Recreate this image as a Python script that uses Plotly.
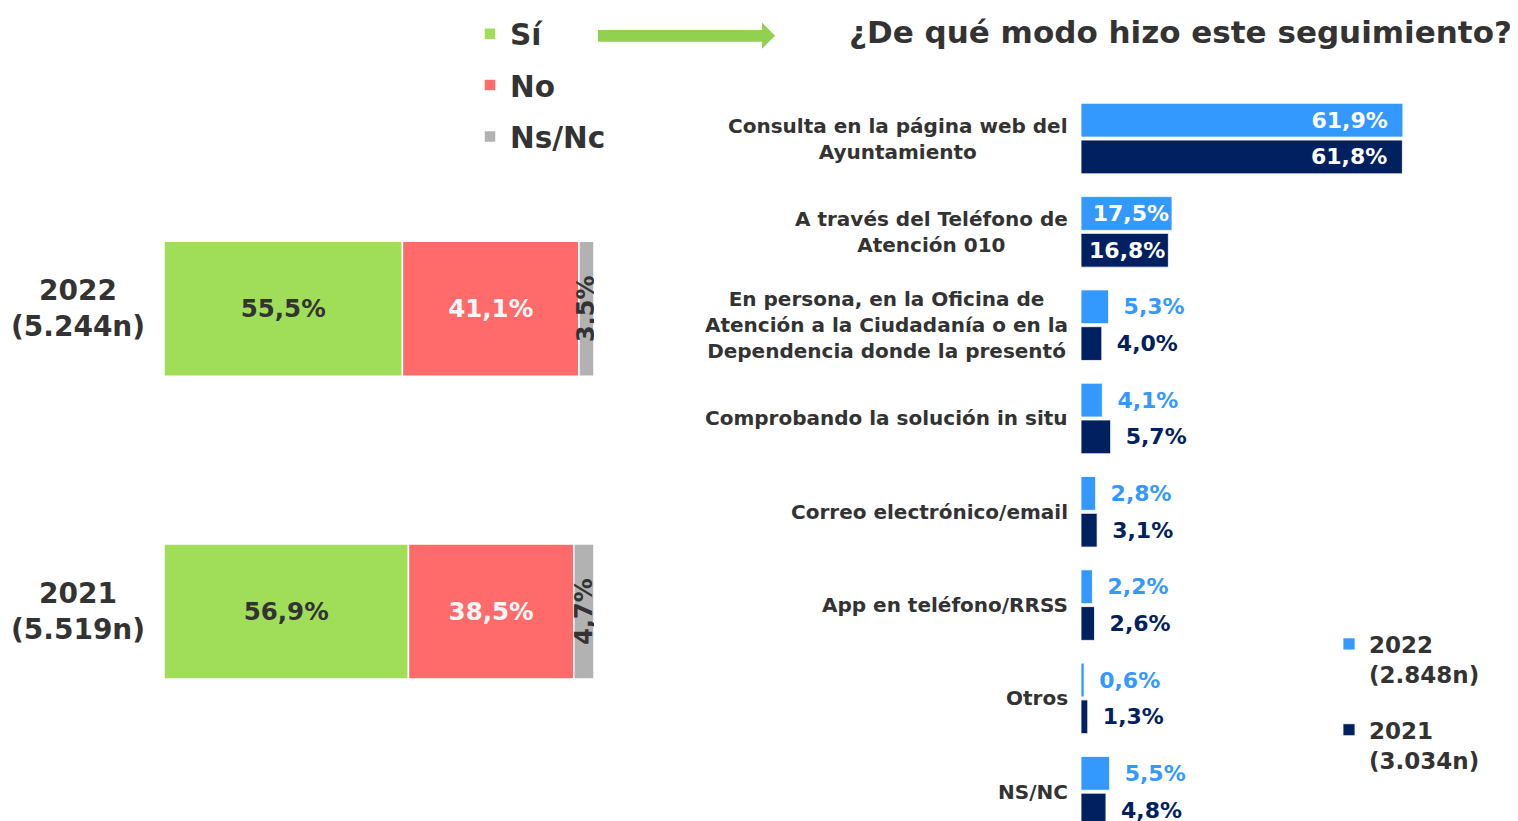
import plotly.graph_objects as go

# ---------------- data ----------------
years = ["2022", "2021"]
year_n = ["(5.244n)", "(5.519n)"]
si = [55.5, 56.9]
no = [41.1, 38.5]
nsnc = [3.5, 4.7]

categories = [
    "Consulta en la página web del<br>Ayuntamiento",
    "A través del Teléfono de<br>Atención 010",
    "En persona, en la Oficina de<br>Atención a la Ciudadanía o en la<br>Dependencia donde la presentó",
    "Comprobando la solución in situ",
    "Correo electrónico/email",
    "App en teléfono/RRSS",
    "Otros",
    "NS/NC",
]
v2022 = [61.9, 17.5, 5.3, 4.1, 2.8, 2.2, 0.6, 5.5]
v2021 = [61.8, 16.8, 4.0, 5.7, 3.1, 2.6, 1.3, 4.8]
series_names = ["2022<br>(2.848n)", "2021<br>(3.034n)"]

title_text = "¿De qué modo hizo este seguimiento?"

# ---------------- style ----------------
W, H = 1518, 821          # window size
OFF = 8                   # page body margin
FW, FH = W - OFF, H - OFF  # figure size
FONT = "DejaVu Sans"
TXT = "#333333"
GREEN, RED, GRAY = "#A0DE5A", "#FF6B6B", "#B2B2B2"
LIGHT, NAVY = "#3399FF", "#002060"
ARROW = "#92D050"


def fmt(v):
    return f"{v:.1f}".replace(".", ",") + "%"


def bar_label(v):
    if v > 30:
        return fmt(v) + "\u00a0\u2009"
    if v > 10:
        return fmt(v)
    return "\u00a0\u2009" + fmt(v)


def px_x(p):
    return (p - OFF) / FW


def px_y(p):
    return 1 - (p - OFF) / FH


fig = go.Figure()

# ---------- left stacked bars (built with explicit bases) ----------
ypos = list(range(len(years)))
base_no = [a for a in si]
base_ns = [a + b for a, b in zip(si, no)]
BW = 0.446

fig.add_trace(go.Bar(
    name="Sí", x=si, y=ypos, base=[0] * len(si), orientation="h", width=BW,
    marker=dict(color=GREEN, line=dict(color="white", width=1.5)),
    text=[fmt(v) for v in si], textposition="inside", insidetextanchor="middle",
    textangle=0, textfont=dict(family=FONT, size=24.5, color=TXT, weight="bold"),
    xaxis="x", yaxis="y", legend="legend", legendgroup="si", hoverinfo="skip",
))
fig.add_trace(go.Bar(
    name="No", x=no, y=ypos, base=base_no, orientation="h", width=BW,
    marker=dict(color=RED, line=dict(color="white", width=1.5)),
    text=[fmt(v) for v in no], textposition="inside", insidetextanchor="middle",
    textangle=0, textfont=dict(family=FONT, size=24.5, color="#F7F7F7", weight="bold"),
    xaxis="x", yaxis="y", legend="legend", legendgroup="no", hoverinfo="skip",
))
fig.add_trace(go.Bar(
    name="Ns/Nc", x=nsnc, y=ypos, base=base_ns, orientation="h", width=BW,
    marker=dict(color=GRAY, line=dict(color="white", width=1.5)),
    text=[fmt(v) for v in nsnc], textposition="inside", insidetextanchor="middle",
    textangle=-90, constraintext="none",
    textfont=dict(family=FONT, size=24, color=TXT, weight="bold"),
    xaxis="x", yaxis="y", legend="legend", legendgroup="ns", hoverinfo="skip",
))

# ---------- right grouped bars ----------
cpos = list(range(len(categories)))
BW2 = 0.362
for vals, name, col, off, grp in [
    (v2022, series_names[0], LIGHT, -0.378, "a"),
    (v2021, series_names[1], NAVY, 0.016, "b"),
]:
    fig.add_trace(go.Bar(
        name=name, x=vals, y=cpos, orientation="h", width=BW2, offset=off,
        marker=dict(color=col, line=dict(color="white", width=0.8)),
        text=[bar_label(v) for v in vals],
        textposition=["inside" if v > 10 else "outside" for v in vals],
        insidetextanchor="end", textangle=0,
        insidetextfont=dict(family=FONT, size=22, color="white", weight="bold"),
        outsidetextfont=dict(family=FONT, size=22, color=col, weight="bold"),
        xaxis="x2", yaxis="y2", legend="legend2", legendgroup=grp,
        hoverinfo="skip",
    ))

annotations = []
# year labels (left)
for i, (yr, n) in enumerate(zip(years, year_n)):
    annotations.append(dict(
        xref="paper", x=px_x(78), yref="y", y=i, xanchor="center", yanchor="middle",
        text=f"{yr}<br>{n}", showarrow=False, align="center",
        font=dict(family=FONT, size=28, color=TXT, weight="bold"),
    ))
# category labels (right)
for i, c in enumerate(categories):
    annotations.append(dict(
        xref="x2 domain", x=0, xshift=-11, yref="y2", y=i, xanchor="right",
        yanchor="middle", text=c, showarrow=False, align="center",
        font=dict(family=FONT, size=20, color=TXT, weight="bold"),
    ))
# title
annotations.append(dict(
    xref="paper", x=px_x(1514), yref="paper", y=px_y(26), xanchor="right",
    yanchor="middle", text=title_text, showarrow=False,
    font=dict(family=FONT, size=31, color=TXT, weight="bold"),
))

# arrow shape
arrow_path = (
    f"M{px_x(598)},{px_y(24)} L{px_x(762)},{px_y(24)} L{px_x(762)},{px_y(16.5)} "
    f"L{px_x(775)},{px_y(30)} L{px_x(762)},{px_y(43)} L{px_x(762)},{px_y(36)} "
    f"L{px_x(598)},{px_y(36)} Z"
)
shapes = [dict(type="path", xref="paper", yref="paper", path=arrow_path,
               fillcolor=ARROW, line=dict(width=0))]

x1_max = sum([si[0], no[0], nsnc[0]])
c1 = 305 - OFF   # figure px of first left category centre
c2 = 133.5 - OFF  # figure px of first right category centre
fig.update_layout(
    width=FW, height=FH, autosize=False,
    margin=dict(l=0, r=0, t=0, b=0),
    paper_bgcolor="white", plot_bgcolor="white",
    barmode="overlay",
    showlegend=True,
    xaxis=dict(domain=[px_x(164), px_x(594)], range=[0, x1_max], visible=False,
               fixedrange=True),
    yaxis=dict(domain=[0, 1], range=[(FH - c1) / 305, -c1 / 305], visible=False,
               fixedrange=True),
    xaxis2=dict(domain=[px_x(1081), 1.0], range=[0, (W - 1081) / 5.2], visible=False,
                fixedrange=True),
    yaxis2=dict(domain=[0, 1], range=[(FH - c2) / 94, -c2 / 94], visible=False,
                fixedrange=True, anchor="x2"),
    legend=dict(
        x=px_x(470), y=px_y(2), xanchor="left", yanchor="top",
        traceorder="grouped", tracegroupgap=10, bgcolor="rgba(0,0,0,0)",
        font=dict(family=FONT, size=29.5, color=TXT, weight="bold"),
        itemclick=False, itemdoubleclick=False,
    ),
    legend2=dict(
        x=px_x(1329), y=px_y(621), xanchor="left", yanchor="top",
        traceorder="grouped", tracegroupgap=23, valign="top", bgcolor="rgba(0,0,0,0)",
        font=dict(family=FONT, size=23, color=TXT, weight="bold"),
        itemclick=False, itemdoubleclick=False,
    ),
    annotations=annotations,
    shapes=shapes,
    font=dict(family=FONT, color=TXT),
)

fig.write_html("out.html")
